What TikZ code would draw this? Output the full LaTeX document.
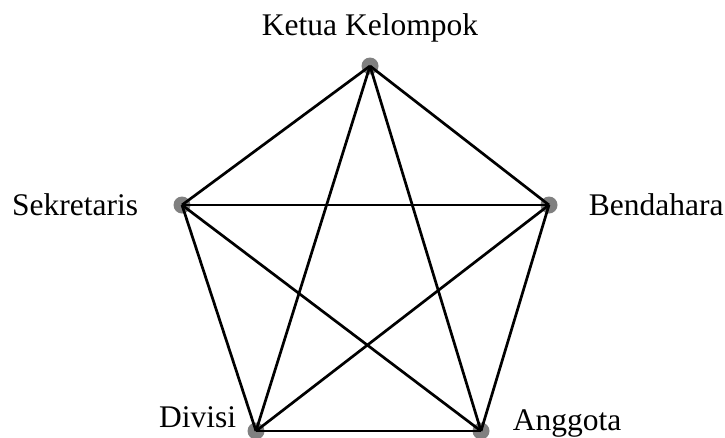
\documentclass[tikz,border=0pt]{standalone}
\usepackage{fontspec}
\setmainfont{Liberation Serif}
\usetikzlibrary{positioning}
\tikzset{
  member/.style={circle, fill=gray, inner sep=0pt, minimum size=17pt},
  role/.style={font=\fontsize{31.5}{38}\selectfont, inner sep=0pt},
  link/.style={line width=2.7pt, black}
}
\begin{document}
\begin{tikzpicture}[x=1pt, y=-1pt]
\useasboundingbox (0,0) rectangle (725,437);
% anggota kelompok
\node[member] (ketua) at (370,66) {};
\node[member] (sekretaris) at (182,205) {};
\node[member] (bendahara) at (549,205) {};
\node[member] (divisi) at (256,431) {};
\node[member] (anggota) at (481,431) {};
% nama peran
\node[role, above=15pt of ketua] (ketuaLbl) {Ketua Kelompok};
\node[role, left=35pt of sekretaris] (sekretarisLbl) {Sekretaris};
\node[role, right=31pt of bendahara] (bendaharaLbl) {Bendahara};
\node[role, left=11pt of divisi, yshift=14pt] (divisiLbl) {Divisi};
\node[role, right=23pt of anggota, yshift=8pt] (anggotaLbl) {Anggota};
% semua terhubung
\foreach \a/\b in {ketua/sekretaris, ketua/bendahara, ketua/divisi, ketua/anggota,
  sekretaris/bendahara, sekretaris/divisi, sekretaris/anggota,
  bendahara/divisi, bendahara/anggota, divisi/anggota}
  \draw[link] (\a.center) -- (\b.center);
\end{tikzpicture}
\end{document}
